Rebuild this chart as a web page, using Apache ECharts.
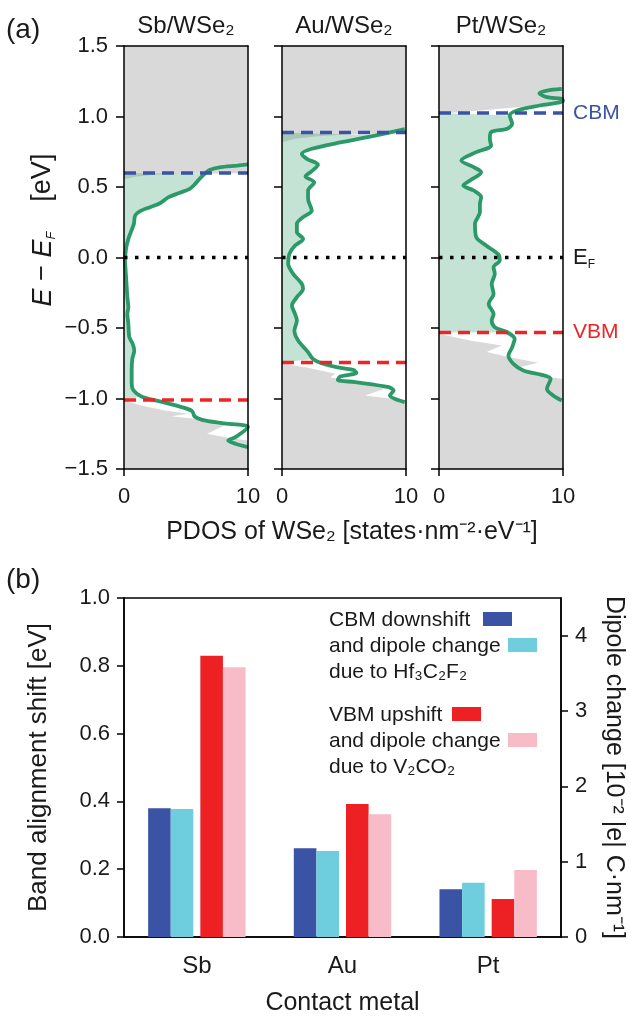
<!DOCTYPE html>
<html>
<head>
<meta charset="utf-8">
<script src="https://cdn.jsdelivr.net/npm/echarts@6.0.0/dist/echarts.min.js"></script>
<style>
html, body { margin: 0; padding: 0; background: #fff; }
#chart { width: 631px; height: 1016px; }
</style>
</head>
<body>
<div id="chart"></div>
<script>
// (a) PDOS panels: points are [PDOS, E - EF]
var panelNames = ['Sb/WSe₂', 'Au/WSe₂', 'Pt/WSe₂'];
var cbmLevel = [0.6, 0.887, 1.025];
var vbmLevel = [-1.01, -0.745, -0.532];
var fermiLevel = 0;

var sbCurve = [[10.0,0.66],[9.1,0.652],[7.7,0.64],[6.9,0.62],[6.5,0.593],[6.1,0.558],[5.7,0.518],[5.3,0.487],[4.5,0.459],[3.6,0.428],[2.9,0.385],[2.1,0.357],[1.3,0.329],[0.9,0.298],[0.8,0.239],[0.6,0.191],[0.35,0.132],[0.16,0.061],[0.08,-0.021],[0.13,-0.092],[0.2,-0.187],[0.27,-0.281],[0.35,-0.352],[0.27,-0.40],[0.35,-0.47],[0.43,-0.565],[0.7,-0.612],[0.83,-0.66],[0.67,-0.719],[0.62,-0.80],[0.62,-0.896],[0.75,-0.94],[1.4,-0.986],[2.8,-1.019],[4.65,-1.061],[5.5,-1.09],[5.7,-1.128],[6.3,-1.151],[7.9,-1.175],[10,-1.203],[9.0,-1.274],[8.4,-1.298],[9.0,-1.321],[10,-1.345]];
var auCurve = [[9.9,0.91],[7.5,0.865],[4.8,0.818],[2.4,0.771],[1.6,0.735],[2.0,0.70],[2.9,0.658],[2.4,0.612],[1.9,0.575],[2.6,0.534],[2.1,0.475],[2.1,0.416],[2.4,0.333],[1.7,0.286],[1.2,0.239],[1.2,0.18],[1.7,0.132],[1.05,0.085],[0.6,0.026],[0.5,-0.045],[0.9,-0.116],[1.6,-0.187],[1.7,-0.222],[1.2,-0.281],[0.8,-0.34],[1.05,-0.40],[1.2,-0.447],[1.0,-0.518],[1.3,-0.589],[2.1,-0.671],[2.5,-0.72],[3.2,-0.75],[4.4,-0.778],[5.75,-0.797],[6.0,-0.818],[4.7,-0.844],[4.5,-0.868],[5.9,-0.884],[8.6,-0.92],[9.0,-0.943],[8.7,-0.979],[9.9,-1.026]];
var ptCurve = [[9.9,1.196],[8.7,1.184],[8.1,1.165],[8.7,1.137],[9.9,1.125],[10,1.11],[8.1,1.078],[6.3,1.043],[5.7,1.007],[5.9,0.948],[5.5,0.913],[4.2,0.889],[4.1,0.842],[4.2,0.794],[3.0,0.747],[1.8,0.688],[2.8,0.641],[3.4,0.605],[2.5,0.546],[1.96,0.511],[2.8,0.475],[3.4,0.428],[3.3,0.381],[3.3,0.322],[2.9,0.239],[3.0,0.144],[3.8,0.085],[4.8,0.021],[4.9,-0.021],[4.4,-0.069],[4.5,-0.116],[4.25,-0.187],[4.4,-0.258],[4.0,-0.329],[4.4,-0.40],[4.25,-0.447],[4.5,-0.494],[5.5,-0.53],[6.1,-0.577],[5.9,-0.636],[5.6,-0.695],[6.0,-0.754],[6.8,-0.801],[8.5,-0.837],[9.0,-0.861],[8.7,-0.931],[9.2,-0.979],[9.9,-1.014]];

// edges of the grey (WSe2 bulk) area above CBM and below VBM
var sbGreyTop = [[0,0.555],[1,0.575],[2.5,0.587],[4.5,0.594],[10,0.597]];
var auGreyTop = [[0,0.818],[1.05,0.842],[2.7,0.858],[4.8,0.87],[7.5,0.877],[10,0.882]];
var ptGreyTop = [[0,1.019],[3.3,1.043],[6.3,1.066],[8.1,1.085],[10,1.10]];
var sbGreyBottom = [[0,-1.015],[1.4,-1.05],[3.3,-1.085],[5.2,-1.109],[3.8,-1.126],[5.7,-1.144],[8.1,-1.191],[6.7,-1.25],[8.4,-1.279],[10,-1.298]];
var auGreyBottom = [[0,-0.754],[2,-0.78],[4.3,-0.825],[3.9,-0.849],[4.5,-0.86],[8.3,-0.931],[6.7,-0.979],[8.7,-1.0],[10,-1.03]];
var ptGreyBottom = [[0,-0.541],[2.5,-0.589],[5.05,-0.624],[3.85,-0.671],[5.7,-0.707],[8.0,-0.747],[6.5,-0.778],[8.1,-0.837],[10,-0.861]];

// (b) bars
var metals = ['Sb', 'Au', 'Pt'];
var cbmShift = [0.38, 0.262, 0.141];
var dipoleHf = [1.70, 1.14, 0.72];
var vbmShift = [0.83, 0.392, 0.112];
var dipoleV = [3.58, 1.63, 0.89];

var curves = [sbCurve, auCurve, ptCurve];
var greyTops = [sbGreyTop, auGreyTop, ptGreyTop];
var greyBottoms = [sbGreyBottom, auGreyBottom, ptGreyBottom];

var FONT = 'Liberation Sans, Arial, sans-serif';
var TXT = '#1a1a1a';
var GREEN = '#2b9a68';
var BLUE = '#3a53a4';
var RED = '#ee2426';
var panelLeft = [124, 282, 439];

var chartDom = document.getElementById('chart');
var myChart = echarts.init(chartDom);

function polygon(i, pts, color, z) {
    return {
        type: 'custom', xAxisIndex: 2 * i, yAxisIndex: 2 * i, z: z, silent: true,
        data: pts,
        renderItem: function (params, api) {
            if (params.dataIndex !== 0) return null;
            return {
                type: 'polygon',
                shape: { points: pts.map(function (p) { return api.coord(p); }) },
                style: { fill: color }
            };
        }
    };
}

function bandLine(i, level, color, dash, label) {
    var s = {
        type: 'line', xAxisIndex: 2 * i, yAxisIndex: 2 * i, z: 5, silent: true,
        data: [[0, level], [10, level]],
        showSymbol: false,
        lineStyle: { color: color, width: 3.5, type: dash }
    };
    if (label) {
        s.endLabel = {
            show: true, formatter: label, color: color, fontSize: 21, fontFamily: FONT, distance: 10,
            rich: { s: { fontSize: 12, color: color, fontFamily: FONT, padding: [14, 0, 0, 0] }, n: { fontSize: 22, color: color, fontFamily: FONT } }
        };
    }
    return s;
}

var grids = [], xAxes = [], yAxes = [], series = [];
var lineAxis = { show: true, onZero: false, lineStyle: { color: '#000', width: 1.5 } };

for (var i = 0; i < 3; i++) {
    grids.push({ left: panelLeft[i], width: 124, top: 46, height: 423, outerBoundsMode: 'none' });
    xAxes.push({
        gridIndex: i, type: 'value', min: 0, max: 10, interval: 10, z: 10,
        axisLine: lineAxis,
        axisTick: { show: true, length: 7, lineStyle: { color: '#000', width: 1.5 } },
        axisLabel: { color: TXT, fontSize: 22, fontFamily: FONT, margin: 17 },
        splitLine: { show: false }
    });
    xAxes.push({
        gridIndex: i, type: 'value', position: 'top', min: 0, max: 10, z: 10,
        axisLine: lineAxis, axisTick: { show: false }, axisLabel: { show: false }, splitLine: { show: false }
    });
    yAxes.push({
        gridIndex: i, type: 'value', min: -1.5, max: 1.5, interval: 0.5, z: 10,
        axisLine: lineAxis,
        axisTick: { show: true, length: 8, lineStyle: { color: '#000', width: 1.5 } },
        axisLabel: {
            show: i === 0, color: TXT, fontSize: 22, fontFamily: FONT, margin: 16,
            formatter: function (v) { return v.toFixed(1).replace('-', '\u2212'); }
        },
        splitLine: { show: false }
    });
    yAxes.push({
        gridIndex: i, type: 'value', position: 'right', min: -1.5, max: 1.5, z: 10,
        axisLine: lineAxis, axisTick: { show: false }, axisLabel: { show: false }, splitLine: { show: false }
    });

    var cb = cbmLevel[i], vb = vbmLevel[i];
    var topPoly = [[0, 1.5], [10, 1.5]].concat(greyTops[i].slice().reverse());
    var botPoly = greyBottoms[i].concat([[10, -1.5], [0, -1.5]]);
    var fillPoly = [[0, cb]].concat(curves[i].filter(function (p) { return p[1] < cb && p[1] > vb; })).concat([[0, vb]]);

    series.push(polygon(i, topPoly, '#d9d9d9', 1));
    series.push(polygon(i, botPoly, '#d9d9d9', 1));
    series.push(polygon(i, fillPoly, 'rgba(43,154,104,0.28)', 2));
    series.push({
        type: 'line', xAxisIndex: 2 * i, yAxisIndex: 2 * i, z: 3, silent: true,
        data: curves[i], showSymbol: false, smooth: 0.3, clip: true,
        lineStyle: { color: GREEN, width: 3.8 }
    });
    series.push(bandLine(i, cb, BLUE, [12, 7], i === 2 ? 'CBM' : null));
    series.push(bandLine(i, fermiLevel, '#000', [3.5, 7.5], i === 2 ? '{n|E}{s|F}' : null));
    series.push(bandLine(i, vb, RED, [12, 7], i === 2 ? 'VBM' : null));
}
series[series.length - 2].endLabel.color = TXT;
series[series.length - 2].endLabel.rich.n.color = TXT;
series[series.length - 2].endLabel.rich.s.color = TXT;

// (b) grouped bars
grids.push({ left: 124, right: 70, top: 598, bottom: 79, show: true, borderColor: '#000', borderWidth: 1.5, outerBoundsMode: 'none' });
xAxes.push({
    gridIndex: 3, type: 'category', data: metals,
    axisLine: { lineStyle: { color: '#000', width: 1.5 } },
    axisTick: { alignWithLabel: true, length: 7, lineStyle: { color: '#000', width: 1.5 } },
    axisLabel: { color: TXT, fontSize: 24, fontFamily: FONT, margin: 17 },
    name: 'Contact metal', nameLocation: 'middle', nameGap: 54, nameMoveOverlap: false,
    nameTextStyle: { color: TXT, fontSize: 25, fontFamily: FONT }
});
yAxes.push({
    gridIndex: 3, type: 'value', min: 0, max: 1, interval: 0.2,
    axisLine: { show: true, lineStyle: { color: '#000', width: 1.5 } },
    axisTick: { show: true, length: 7, lineStyle: { color: '#000', width: 1.5 } },
    axisLabel: { color: TXT, fontSize: 22, fontFamily: FONT, margin: 14, formatter: function (v) { return v.toFixed(1); } },
    splitLine: { show: false },
    name: 'Band alignment shift [eV]', nameLocation: 'middle', nameGap: 72, nameRotate: 90, nameMoveOverlap: false,
    nameTextStyle: { color: TXT, fontSize: 26, fontFamily: FONT }
});
yAxes.push({
    gridIndex: 3, type: 'value', position: 'right', min: 0, max: 4.5, interval: 1,
    axisLine: { show: true, lineStyle: { color: '#000', width: 1.5 } },
    axisTick: { show: true, length: 7, lineStyle: { color: '#000', width: 1.5 } },
    axisLabel: { color: TXT, fontSize: 22, fontFamily: FONT, margin: 14, showMaxLabel: false,
        formatter: function (v) { return Number.isInteger(v) ? String(v) : ''; } },
    splitLine: { show: false },
    name: 'Dipole change [10⁻² |e| C·nm⁻¹]', nameLocation: 'middle', nameGap: 40, nameRotate: -90, nameMoveOverlap: false,
    nameTextStyle: { color: TXT, fontSize: 25, fontFamily: FONT }
});

function bar(data, yIdx, color, width) {
    return { type: 'bar', xAxisIndex: 6, yAxisIndex: yIdx, data: data, barWidth: width, barGap: 0, itemStyle: { color: color }, silent: true };
}
series.push(bar(cbmShift, 6, BLUE, 22.6));
series.push(bar(dipoleHf, 7, '#6ecedd', 22.6));
series.push(bar(metals.map(function () { return '-'; }), 6, 'transparent', 7));
series.push(bar(vbmShift, 6, '#ed2024', 22.6));
series.push(bar(dipoleV, 7, '#f7bcc8', 22.6));

function txt(x, y, text, size, extra) {
    var st = { text: text, fill: TXT, font: size + 'px ' + FONT, textAlign: 'left', textVerticalAlign: 'middle' };
    for (var k in extra) st[k] = extra[k];
    return { type: 'text', x: x, y: y, style: st, z: 20 };
}
function box(x, y, color) {
    return { type: 'rect', shape: { x: x, y: y, width: 29, height: 14 }, style: { fill: color }, z: 20 };
}

var graphics = [
    txt(6, 30, '(a)', 28),
    txt(6, 580, '(b)', 28),
    txt(186, 26, panelNames[0], 24, { textAlign: 'center' }),
    txt(344, 26, panelNames[1], 24, { textAlign: 'center' }),
    txt(501, 26, panelNames[2], 24, { textAlign: 'center' }),
    txt(352, 532, 'PDOS of WSe₂ [states·nm⁻²·eV⁻¹]', 25, { textAlign: 'center' }),
    {
        type: 'text', x: 43, y: 230, rotation: Math.PI / 2, z: 20,
        style: {
            text: '{i|E} − {i|E}{s|F}    [eV]', fill: TXT, font: '27px ' + FONT,
            textAlign: 'center', textVerticalAlign: 'middle',
            rich: {
                i: { fontStyle: 'italic', fontSize: 27, fontFamily: FONT, fill: TXT },
                s: { fontStyle: 'italic', fontSize: 13, fontFamily: FONT, fill: TXT, padding: [16, 0, 0, 0] }
            }
        }
    },
    txt(329, 620, 'CBM downshift', 21), box(483, 612, BLUE),
    txt(329, 646, 'and dipole change', 21), box(508, 638, '#6ecedd'),
    txt(329, 672, 'due to Hf₃C₂F₂', 21),
    txt(329, 715, 'VBM upshift', 21), box(452, 707, '#ed2024'),
    txt(329, 741, 'and dipole change', 21), box(508, 733, '#f7bcc8'),
    txt(329, 767, 'due to V₂CO₂', 21)
];

var option = {
    animation: false,
    backgroundColor: '#fff',
    grid: grids,
    xAxis: xAxes,
    yAxis: yAxes,
    series: series,
    graphic: graphics
};
option && myChart.setOption(option);
</script>
</body>
</html>
